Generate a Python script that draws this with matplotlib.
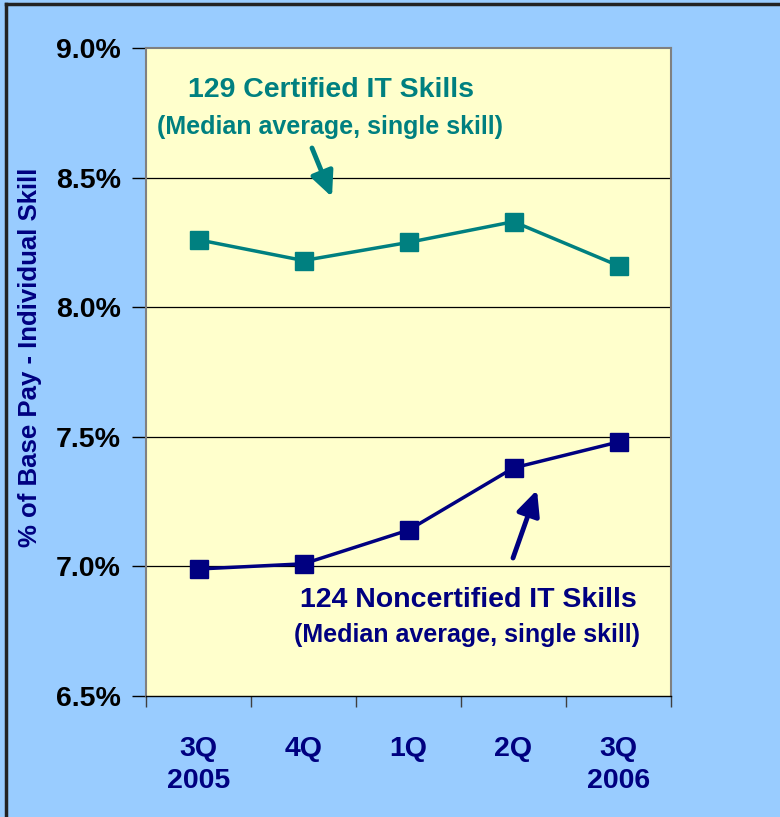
import matplotlib
matplotlib.use("Agg")
import matplotlib.pyplot as plt
from matplotlib.lines import Line2D

plt.rcParams['font.family'] = ['Liberation Sans', 'DejaVu Sans']
plt.rcParams['font.weight'] = 'bold'

# data
quarters = ["3Q\n2005", "4Q", "1Q", "2Q", "3Q\n2006"]
certified = [8.26, 8.18, 8.25, 8.33, 8.16]
noncertified = [6.99, 7.01, 7.14, 7.38, 7.48]
yticks = [6.5, 7.0, 7.5, 8.0, 8.5, 9.0]

teal = "#008080"
navy = "#000080"

fig = plt.figure(figsize=(7.8, 8.17), dpi=100, facecolor="#99CCFF")
ax = fig.add_axes([146 / 780, 1 - 696 / 817, 525 / 780, 648 / 817])
ax.set_facecolor("#FFFFCC")

x = list(range(len(quarters)))
ax.plot(x, certified, color=teal, lw=2.5, marker="s", ms=13.5, zorder=3)
ax.plot(x, noncertified, color=navy, lw=2.5, marker="s", ms=13.5, zorder=3)

ax.set_xlim(-0.5, len(quarters) - 0.5)
ax.set_ylim(6.5, 9.0)
ax.set_yticks(yticks)
ax.set_yticklabels(["%.1f%%" % v for v in yticks], fontsize=20.5, fontweight="bold")
ax.tick_params(axis="y", direction="out", length=10, width=1, pad=8, color="black")
for v in yticks[1:-1]:
    ax.axhline(v, color="black", lw=0.9, zorder=1)

# boundary ticks on major, labels on minor
ax.set_xticks([i - 0.5 for i in range(len(quarters) + 1)])
ax.set_xticklabels([])
ax.tick_params(axis="x", which="major", direction="out", length=8, width=1, color="#404040")
ax.set_xticks(x, minor=True)
ax.set_xticklabels(quarters, minor=True, fontsize=20.5, fontweight="bold",
                   color=navy, linespacing=1.3)
ax.tick_params(axis="x", which="minor", length=0, pad=29)

for side in ["left", "top", "right"]:
    ax.spines[side].set_color("#808080")
    ax.spines[side].set_linewidth(1.5)
ax.spines["bottom"].set_color("black")
ax.spines["bottom"].set_linewidth(1)

fig.text(30 / 780, 1 - 357 / 817, "% of Base Pay - Individual Skill", rotation=90,
         ha="center", va="center", fontsize=18.5, fontweight="bold", color=navy)

# annotations (figure pixel coordinates converted to fractions)
def fx(px):
    return px / 780

def fy(py):
    return 1 - py / 817

fig.text(fx(331), fy(90), "129 Certified IT Skills", ha="center", va="center",
         fontsize=20.5, fontweight="bold", color=teal)
fig.text(fx(330), fy(127), "(Median average, single skill)", ha="center", va="center",
         fontsize=18, fontweight="bold", color=teal)
ax.annotate("", xy=(fx(332), fy(197)), xytext=(fx(312), fy(148)),
            xycoords="figure fraction", textcoords="figure fraction",
            arrowprops=dict(arrowstyle="-|>,head_length=1.5,head_width=0.7",
                            color=teal, lw=3.5, shrinkA=0, shrinkB=0))

fig.text(fx(468), fy(600), "124 Noncertified IT Skills", ha="center", va="center",
         fontsize=20.5, fontweight="bold", color=navy)
fig.text(fx(467), fy(635), "(Median average, single skill)", ha="center", va="center",
         fontsize=18, fontweight="bold", color=navy)
ax.annotate("", xy=(fx(537), fy(490)), xytext=(fx(513), fy(558)),
            xycoords="figure fraction", textcoords="figure fraction",
            arrowprops=dict(arrowstyle="-|>,head_length=1.5,head_width=0.7",
                            color=navy, lw=3.5, shrinkA=0, shrinkB=0))

# figure frame, visible on top and left only
fig.add_artist(Line2D([fx(6), fx(6)], [0, fy(4)], color="#222222", lw=2.5,
                      transform=fig.transFigure))
fig.add_artist(Line2D([fx(6), 1], [fy(4), fy(4)], color="#222222", lw=2.5,
                      transform=fig.transFigure))

fig.savefig("out.png", dpi=100, facecolor=fig.get_facecolor())
